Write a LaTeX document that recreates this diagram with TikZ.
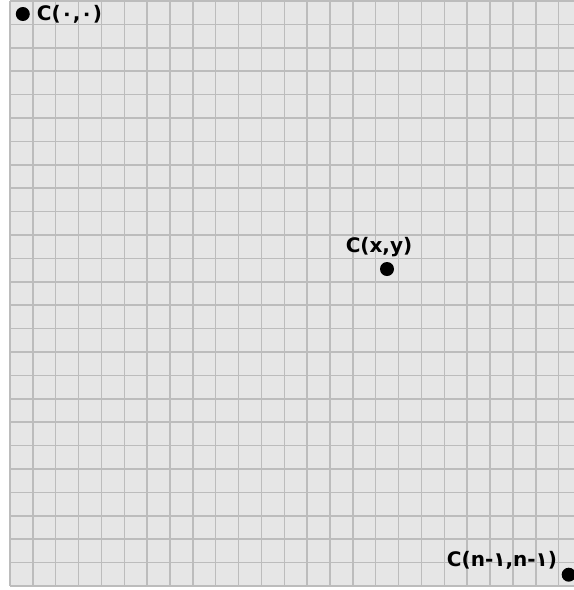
\documentclass[tikz,border=0pt]{standalone}
\usepackage{fontspec}
\newfontfamily\cellfont{DejaVu Sans}
\definecolor{cellfill}{RGB}{230,230,230}
\definecolor{cellline}{RGB}{188,188,188}

\begin{document}
\begin{tikzpicture}[x=0.75pt, y=-0.75pt,
    cellpt/.style={circle, fill=black, inner sep=0pt, minimum size=10.5pt},
    celltext/.style={inner sep=0pt, font=\cellfont\bfseries\fontsize{15}{17}\selectfont}]
  \useasboundingbox (0,0) rectangle (574,590);
  % Bakgrunn
  \fill[cellfill] (10,1) rectangle (574,586);
  % Rutenett
  \foreach \i in {0,...,25}
    \draw[cellline, line width=1.1pt] (10,{1+23.4*\i}) -- (574,{1+23.4*\i});
  \foreach \j in {0,...,24}
    \draw[cellline, line width=1.1pt] ({10+22.86*\j},1) -- ({10+22.86*\j},586);
  % Hjørnepunkt C(0,0)
  \node[cellpt] (c00) at (22.8,14) {};
  \node[celltext, anchor=west] (l00) at (36.7,14) {C(۰,۰)};
  % Punktet C(x,y)
  \node[cellpt] (cxy) at (387,269) {};
  \node[celltext] (lxy) at (379,247.5) {C(x,y)};
  % Hjørnepunkt C(n-1,n-1)
  \node[cellpt] (cnn) at (568.7,574.7) {};
  \node[celltext, anchor=east] (lnn) at (557.3,560) {C(n-۱,n-۱)};
\end{tikzpicture}
\end{document}
